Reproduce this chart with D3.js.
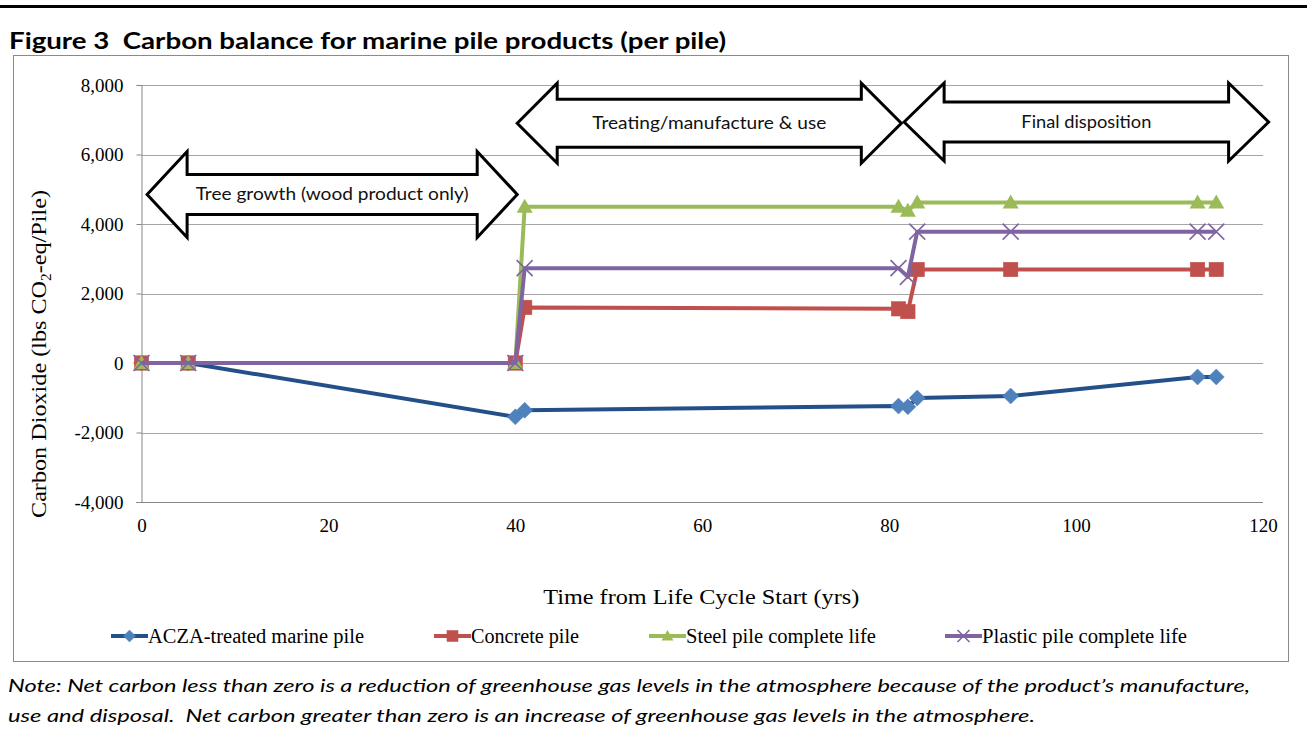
<!DOCTYPE html>
<html><head><meta charset="utf-8">
<script src="https://cdn.jsdelivr.net/npm/d3@7/dist/d3.min.js"></script>
<style>body{margin:0;background:#fff}svg{display:block}text{white-space:pre}</style>
</head><body>
<svg id="c" width="1307" height="735"></svg>
<script>
// ---- data ----
const years = [0, 5, 40, 41, 81, 82, 83, 93, 113, 115];
const acza =     [0, 0, -1550, -1360, -1240, -1260, -1010, -950, -400, -400];
const concrete = [0, 0, 0, 1600, 1560, 1480, 2690, 2690, 2690, 2690];
const steel =    [0, 0, 0, 4500, 4500, 4380, 4620, 4620, 4620, 4620];
const plastic =  [0, 0, 0, 2730, 2730, 2480, 3780, 3780, 3780, 3780];
const seriesNames = ["ACZA-treated marine pile", "Concrete pile", "Steel pile complete life", "Plastic pile complete life"];
const yTickValues = [-4000, -2000, 0, 2000, 4000, 6000, 8000];
const yTickLabels = ["-4,000", "-2,000", "0", "2,000", "4,000", "6,000", "8,000"];
const xTickValues = [0, 20, 40, 60, 80, 100, 120];
const xTickLabels = ["0", "20", "40", "60", "80", "100", "120"];
const phaseLabels = ["Tree growth (wood product only)", "Treating/manufacture & use", "Final disposition"];
const phaseStart = [0.6, 40.2, 81.6];
const phaseEnd = [40.2, 81.3, 120.6];
const phaseLevel = [4850, 6900, 6935];

// ---- styles ----
const styles = [
  {line: "#24508a", fill: "#4f81bd", marker: "diamond"},
  {line: "#c0504d", fill: "#c0504d", marker: "square"},
  {line: "#9bbb59", fill: "#9bbb59", marker: "triangle"},
  {line: "#8064a2", fill: "#8064a2", marker: "x"}
];
const seriesData = [acza, concrete, steel, plastic];
const serif = "'Liberation Serif','Times New Roman',serif";
const sans = "Lato,'Open Sans',sans-serif";

const svg = d3.select("#c");
const x = d3.scaleLinear().domain([0, 120]).range([141.5, 1263]);
const y = d3.scaleLinear().domain([-4000, 8000]).range([502, 85]);

// top rule and title
svg.append("line").attr("x1", 0).attr("x2", 1307).attr("y1", 6.5).attr("y2", 6.5)
  .attr("stroke", "#000").attr("stroke-width", 3);
svg.append("text").attr("x", 9).attr("y", 49).attr("font-family", sans).attr("font-weight", 700)
  .attr("font-size", 23).attr("textLength", 717).attr("lengthAdjust", "spacingAndGlyphs")
  .text("Figure 3  Carbon balance for marine pile products (per pile)");

// chart box
svg.append("rect").attr("x", 13.5).attr("y", 55.5).attr("width", 1275).attr("height", 606)
  .attr("fill", "none").attr("stroke", "#8a8a8a").attr("stroke-width", 1);

// gridlines
svg.append("g").selectAll("line").data(yTickValues.filter(v => v > -4000)).join("line")
  .attr("x1", x(0)).attr("x2", x(120)).attr("y1", d => Math.round(y(d)) + 0.5).attr("y2", d => Math.round(y(d)) + 0.5)
  .attr("stroke", "#a6a6a6").attr("stroke-width", 1);

// axes
const yAxis = d3.axisLeft(y).tickValues(yTickValues).tickSize(5).tickPadding(13)
  .tickFormat((d, i) => yTickLabels[i]);
const gy = svg.append("g").attr("transform", `translate(${x(0)},0)`).call(yAxis);
gy.select(".domain").attr("stroke", "#868686");
gy.selectAll(".tick line").attr("stroke", "#868686");
gy.selectAll(".tick text").attr("font-family", serif).attr("font-size", 19).attr("fill", "#000").attr("dy", "0.34em");

const xAxis = d3.axisBottom(x).tickValues(xTickValues).tickSize(0).tickPadding(17)
  .tickFormat((d, i) => xTickLabels[i]);
const gx = svg.append("g").attr("transform", `translate(0,${y(-4000)})`).call(xAxis);
gx.select(".domain").attr("stroke", "#868686").attr("d", `M${x(0) - 5},0.5H${x(120)}`);
gx.selectAll(".tick text").attr("font-family", serif).attr("font-size", 19).attr("fill", "#000");

// axis titles
svg.append("text").attr("x", x(60) - 1).attr("y", 604).attr("text-anchor", "middle")
  .attr("font-family", serif).attr("font-size", 22).attr("textLength", 316).attr("lengthAdjust", "spacingAndGlyphs")
  .text("Time from Life Cycle Start (yrs)");
const yt = svg.append("text").attr("transform", "translate(46,354) rotate(-90)").attr("text-anchor", "middle")
  .attr("font-family", serif).attr("font-size", 22).attr("textLength", 328).attr("lengthAdjust", "spacingAndGlyphs");
yt.append("tspan").text("Carbon Dioxide (lbs CO");
yt.append("tspan").attr("font-size", 14).attr("dy", 5).text("2");
yt.append("tspan").attr("dy", -5).text("-eq/Pile)");

// phase arrows
const headLen = 40, headHalf = [43, 40, 39], shaftHalf = [20, 24, 20];
const phaseTextLen = [273, 234, 130];
phaseLabels.forEach((lab, i) => {
  const a = x(phaseStart[i]), b = x(phaseEnd[i]), c = y(phaseLevel[i]);
  const hh = headHalf[i], sh = shaftHalf[i];
  const p = d3.path();
  p.moveTo(a, c); p.lineTo(a + headLen, c - hh); p.lineTo(a + headLen, c - sh);
  p.lineTo(b - headLen, c - sh); p.lineTo(b - headLen, c - hh); p.lineTo(b, c);
  p.lineTo(b - headLen, c + hh); p.lineTo(b - headLen, c + sh); p.lineTo(a + headLen, c + sh);
  p.lineTo(a + headLen, c + hh); p.closePath();
  svg.append("path").attr("d", p.toString()).attr("fill", "#fff").attr("stroke", "#000")
    .attr("stroke-width", 3).attr("stroke-linejoin", "miter");
  svg.append("text").attr("x", (a + b) / 2).attr("y", c + 6).attr("text-anchor", "middle")
    .attr("font-family", sans).attr("font-size", 18).attr("fill", "#111")
    .attr("textLength", phaseTextLen[i]).attr("lengthAdjust", "spacingAndGlyphs")
    .text(lab);
});

// markers
function drawMarker(g, type, cx, cy, s, st) {
  if (type === "diamond") {
    g.append("path").attr("d", `M${cx},${cy - s}L${cx + s},${cy}L${cx},${cy + s}L${cx - s},${cy}Z`)
      .attr("fill", st.fill).attr("stroke", st.fill).attr("stroke-width", 0.5);
  } else if (type === "square") {
    g.append("rect").attr("x", cx - s * 0.85).attr("y", cy - s * 0.85).attr("width", s * 1.7).attr("height", s * 1.7)
      .attr("fill", st.fill).attr("stroke", st.fill).attr("stroke-width", 0.5);
  } else if (type === "triangle") {
    g.append("path").attr("d", `M${cx},${cy - s}L${cx + s},${cy + s * 0.75}L${cx - s},${cy + s * 0.75}Z`)
      .attr("fill", st.fill);
  } else {
    g.append("path").attr("d", `M${cx - s},${cy - s}L${cx + s},${cy + s}M${cx - s},${cy + s}L${cx + s},${cy - s}`)
      .attr("stroke", st.fill).attr("stroke-width", 1.6).attr("fill", "none");
  }
}

const line = d3.line().x(d => x(d[0])).y(d => y(d[1]));
seriesData.forEach((vals, i) => {
  const st = styles[i];
  const pts = years.map((yr, k) => [yr, vals[k]]);
  const g = svg.append("g");
  g.append("path").attr("d", line(pts)).attr("fill", "none").attr("stroke", st.line)
    .attr("stroke-width", 4).attr("stroke-linejoin", "round");
  pts.forEach(p => drawMarker(g, st.marker, x(p[0]), y(p[1]), st.marker === "square" ? 8.5 : 8, st));
});

// legend
const legX = [111, 434, 649, 945];
const legTextLen = [216, 108, 190, 205];
const legY = 636;
seriesNames.forEach((name, i) => {
  const st = styles[i];
  const g = svg.append("g");
  g.append("line").attr("x1", legX[i]).attr("x2", legX[i] + 37).attr("y1", legY).attr("y2", legY)
    .attr("stroke", st.line).attr("stroke-width", 4);
  drawMarker(g, st.marker, legX[i] + 18.5, legY, st.marker === "square" ? 6.5 : 6, st);
  g.append("text").attr("x", legX[i] + 37).attr("y", legY + 7).attr("font-family", serif).attr("font-size", 20)
    .attr("textLength", legTextLen[i]).attr("lengthAdjust", "spacingAndGlyphs").text(name);
});

// note
const noteLines = [
  "Note: Net carbon less than zero is a reduction of greenhouse gas levels in the atmosphere because of the product\u2019s manufacture,",
  "use and disposal.  Net carbon greater than zero is an increase of greenhouse gas levels in the atmosphere."
];
const noteLen = [1242, 1027];
noteLines.forEach((t, i) => {
  svg.append("text").attr("x", 8).attr("y", 692 + i * 30).attr("font-family", sans).attr("font-style", "italic")
    .attr("font-size", 18).attr("textLength", noteLen[i]).attr("lengthAdjust", "spacingAndGlyphs").text(t);
});
</script>
</body></html>
